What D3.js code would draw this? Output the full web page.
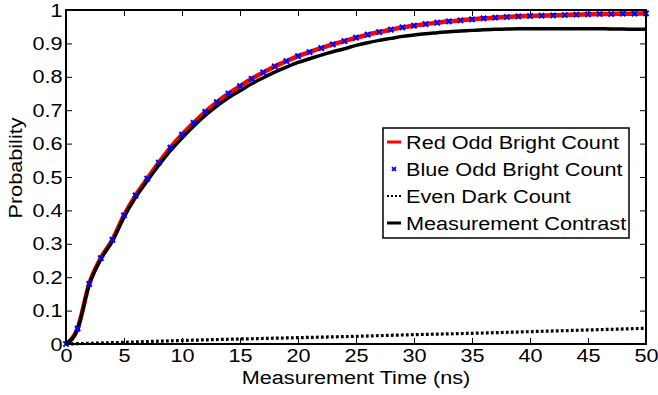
<!DOCTYPE html>
<html>
<head>
<meta charset="utf-8">
<script src="https://cdn.jsdelivr.net/npm/d3@7"></script>
<style>
  body { margin: 0; background: #fff; }
  svg text { font-family: "Liberation Sans", Arial, Helvetica, sans-serif; }
</style>
</head>
<body>
<figure id="chart" style="margin:0"></figure>
<script>
// measurement time (ns), one sample per ns
const times = d3.range(0, 51);

// Red Odd Bright Count
const redOdd = [0, 0.046, 0.180, 0.257, 0.312, 0.385, 0.445, 0.495, 0.543, 0.588,
  0.627, 0.662, 0.695, 0.724, 0.750, 0.772, 0.794, 0.813, 0.831, 0.847,
  0.862, 0.874, 0.886, 0.897, 0.907, 0.917, 0.926, 0.934, 0.941, 0.948,
  0.953, 0.958, 0.962, 0.966, 0.969, 0.972, 0.975, 0.977, 0.979, 0.981,
  0.982, 0.983, 0.984, 0.985, 0.986, 0.987, 0.988, 0.988, 0.989, 0.989, 0.990];

// Blue Odd Bright Count markers (sit on the red curve)
const blueOdd = [0, 0.046, 0.180, 0.257, 0.312, 0.385, 0.445, 0.495, 0.543, 0.588,
  0.627, 0.662, 0.695, 0.724, 0.750, 0.772, 0.794, 0.813, 0.831, 0.847,
  0.862, 0.874, 0.886, 0.897, 0.907, 0.917, 0.926, 0.934, 0.941, 0.948,
  0.953, 0.958, 0.962, 0.966, 0.969, 0.972, 0.975, 0.977, 0.979, 0.981,
  0.982, 0.983, 0.984, 0.985, 0.986, 0.987, 0.988, 0.988, 0.989, 0.989, 0.990];

// Even Dark Count (read every 5 ns)
const darkTimes = [0, 5, 10, 15, 20, 25, 30, 35, 40, 45, 50];
const evenDark = [0, 0.005, 0.0105, 0.015, 0.019, 0.023, 0.028, 0.032, 0.037, 0.042, 0.047];

// Measurement Contrast
const contrast = [0, 0.045, 0.178, 0.254, 0.308, 0.380, 0.439, 0.488, 0.535, 0.579,
  0.617, 0.652, 0.684, 0.712, 0.737, 0.758, 0.779, 0.797, 0.814, 0.829,
  0.843, 0.854, 0.865, 0.875, 0.884, 0.894, 0.902, 0.909, 0.915, 0.921,
  0.925, 0.929, 0.932, 0.935, 0.937, 0.939, 0.941, 0.942, 0.943, 0.944,
  0.944, 0.944, 0.944, 0.944, 0.944, 0.944, 0.944, 0.943, 0.943, 0.942, 0.942];

const xTicks = d3.range(0, 51, 5);
const yTicks = d3.range(0, 11).map(d => d / 10);
const legendLabels = ["Red Odd Bright Count", "Blue Odd Bright Count", "Even Dark Count", "Measurement Contrast"];

const W = 658, H = 395;
const margin = { top: 10, right: 12, bottom: 51, left: 66 };
const width = W - margin.left - margin.right;
const height = H - margin.top - margin.bottom;
const FS = 19;      // font size
const SX = 1.14;    // the exported text is a bit wider than Helvetica

const svg = d3.select("figure#chart")
  .append("svg")
  .attr("width", W)
  .attr("height", H);

const g = svg.append("g")
  .attr("transform", "translate(" + margin.left + "," + margin.top + ")");

const x = d3.scaleLinear().domain([0, 50]).range([0, width]);
const y = d3.scaleLinear().domain([0, 1]).range([height, 0]);

// axes, ticks pointing inward on all four sides
const fmtY = d => d === 0 ? "0" : d === 1 ? "1" : d3.format(".1f")(d);

const axB = g.append("g")
  .attr("transform", "translate(0," + height + ")")
  .call(d3.axisBottom(x).tickValues(xTicks).tickSizeInner(-6).tickSizeOuter(0).tickPadding(5));
const axL = g.append("g")
  .call(d3.axisLeft(y).tickValues(yTicks).tickFormat(fmtY).tickSizeInner(-6).tickSizeOuter(0).tickPadding(3));
const axT = g.append("g")
  .call(d3.axisTop(x).tickValues(xTicks).tickFormat("").tickSizeInner(-6).tickSizeOuter(0));
const axR = g.append("g")
  .attr("transform", "translate(" + width + ",0)")
  .call(d3.axisRight(y).tickValues(yTicks).tickFormat("").tickSizeInner(-6).tickSizeOuter(0));

[axB, axL, axT, axR].forEach(a => {
  a.select(".domain").remove();
  a.selectAll(".tick line").attr("stroke", "#000").attr("stroke-width", 1);
  a.selectAll("text")
    .attr("font-size", FS)
    .attr("fill", "#000")
    .attr("transform", "scale(" + SX + ",1)");
});

// curves
const line = d3.line()
  .x(d => x(d[0]))
  .y(d => y(d[1]))
  .curve(d3.curveMonotoneX);

g.append("path")
  .datum(darkTimes.map((t, i) => [t, evenDark[i]]))
  .attr("fill", "none")
  .attr("stroke", "#000")
  .attr("stroke-width", 3.2)
  .attr("stroke-dasharray", "2.8,2.2")
  .attr("d", line);

g.append("path")
  .datum(times.map((t, i) => [t, redOdd[i]]))
  .attr("fill", "none")
  .attr("stroke", "#ff0000")
  .attr("stroke-width", 4.5)
  .attr("d", line);

g.append("path")
  .datum(times.map((t, i) => [t, contrast[i]]))
  .attr("fill", "none")
  .attr("stroke", "#000")
  .attr("stroke-width", 3.5)
  .attr("d", line);

// blue x markers
const cross = d3.symbol().type(d3.symbolX).size(20);
g.append("g")
  .selectAll("path")
  .data(times.map((t, i) => [t, blueOdd[i]]))
  .enter()
  .append("path")
  .attr("transform", d => "translate(" + x(d[0]) + "," + y(d[1]) + ")")
  .attr("d", cross)
  .attr("fill", "none")
  .attr("stroke", "#0000ff")
  .attr("stroke-width", 2);

// frame
g.append("rect")
  .attr("width", width)
  .attr("height", height)
  .attr("fill", "none")
  .attr("stroke", "#000")
  .attr("stroke-width", 2);

// axis titles
svg.append("text")
  .attr("transform", "translate(" + (margin.left + width / 2) + ",384) scale(" + SX + ",1)")
  .attr("text-anchor", "middle")
  .attr("font-size", FS)
  .text("Measurement Time (ns)");

svg.append("text")
  .attr("transform", "translate(22,168) rotate(-90) scale(" + SX + ",1)")
  .attr("text-anchor", "middle")
  .attr("font-size", FS)
  .text("Probability");

// legend
const leg = svg.append("g").attr("transform", "translate(383,128)");
leg.append("rect")
  .attr("width", 246)
  .attr("height", 110)
  .attr("fill", "#fff")
  .attr("stroke", "#000")
  .attr("stroke-width", 1.5);

const rowY = i => 14 + i * 27;
legendLabels.forEach((lab, i) => {
  const row = leg.append("g").attr("transform", "translate(0," + rowY(i) + ")");
  if (i === 0) {
    row.append("line").attr("x1", 4).attr("x2", 18).attr("stroke", "#ff0000").attr("stroke-width", 3);
  } else if (i === 1) {
    row.append("path").attr("transform", "translate(11,0)").attr("d", d3.symbol().type(d3.symbolX).size(12))
      .attr("fill", "none").attr("stroke", "#0000ff").attr("stroke-width", 1.8);
  } else if (i === 2) {
    row.append("line").attr("x1", 4).attr("x2", 18).attr("stroke", "#000").attr("stroke-width", 2)
      .attr("stroke-dasharray", "2,2");
  } else {
    row.append("line").attr("x1", 4).attr("x2", 18).attr("stroke", "#000").attr("stroke-width", 3);
  }
  row.append("text")
    .attr("transform", "translate(23,0) scale(" + SX + ",1)")
    .attr("dy", "0.35em")
    .attr("font-size", FS)
    .text(lab);
});
</script>
</body>
</html>
